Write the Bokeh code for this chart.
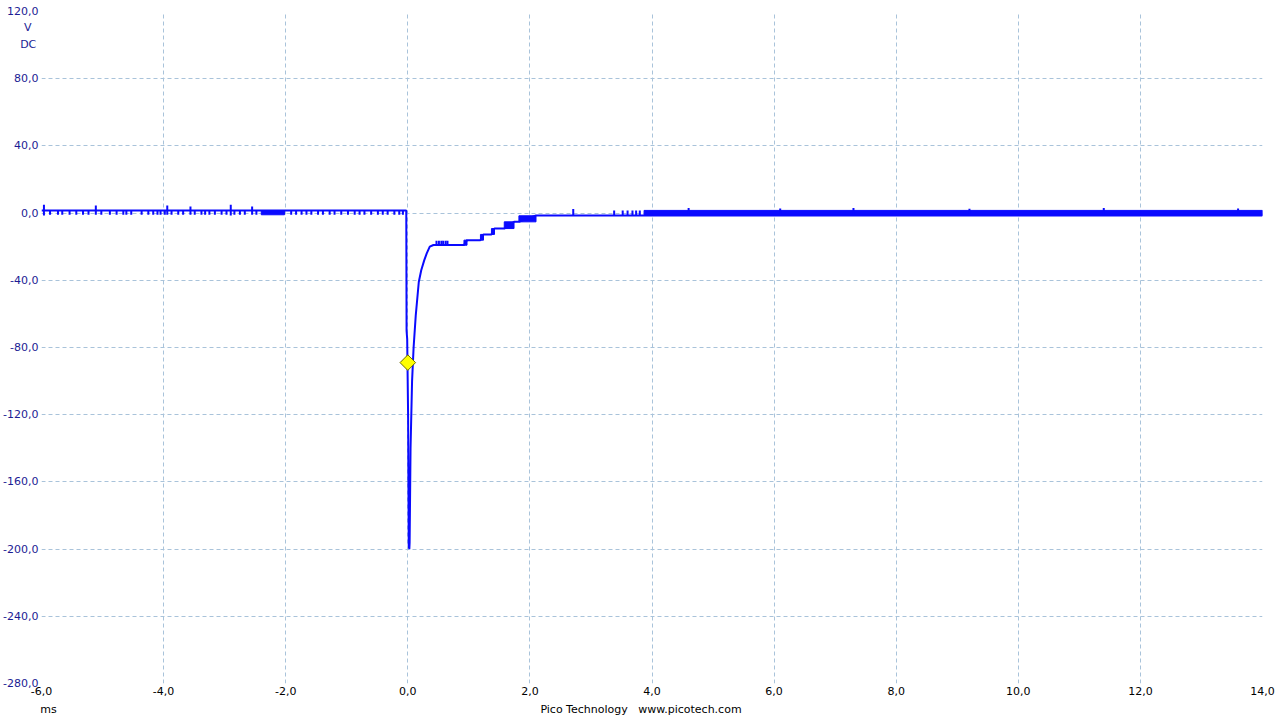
import math
from bokeh.plotting import figure
from bokeh.models import Range1d, FixedTicker, CustomJSTickFormatter, LinearAxis
from bokeh.embed import file_html
from bokeh.resources import INLINE

# ---- axes ----
x_ticks = [-6, -4, -2, 0, 2, 4, 6, 8, 10, 12, 14]
y_ticks = [-280, -240, -200, -160, -120, -80, -40, 0, 40, 80, 120]

# unit captions under the top y label, and footer texts under the x axis
unit_pos = [110.4, 100.3]
unit_text = ["V\u00a0\u00a0", "DC\u2009"]
foot_pos = [-5.885, 3.82]
foot_text = ["ms", "Pico Technology\u00a0\u00a0 www.picotech.com"]

# ---- main trace (ms, V) ----
trace_t = [-6.0, -0.025, -0.02, -0.01, 0.005, 0.015, 0.025, 0.03, 0.045, 0.07, 0.095,
           0.13, 0.18, 0.22, 0.27, 0.31, 0.36, 0.42, 0.92, 0.97, 1.19, 1.24, 1.37,
           1.42, 1.58, 1.74, 1.82, 2.10, 14.0]
trace_v = [1.5, 1.5, -70, -75, -120, -198, -200, -196, -140, -100, -80,
           -61, -41, -34, -28, -24, -20, -19, -19, -16.1, -16.1, -12.7, -12.7,
           -9.2, -9.2, -5.2, -5.2, -1.4, -1.4]

# ---- dense noise regions (start ms, end ms, low V, high V) ----
band_t0 = [-2.40, 0.92, 1.19, 1.37, 1.58, 1.82, 3.87]
band_t1 = [-2.02, 0.97, 1.24, 1.42, 1.74, 2.10, 14.0]
band_lo = [-1.0, -19.1, -16.1, -12.7, -9.2, -5.2, -1.4]
band_hi = [1.5, -16.1, -12.7, -9.2, -5.2, -1.6, 1.6]

# ---- pre-trigger downward noise ticks ----
tick_t = [-5.86, -5.73, -5.66, -5.54, -5.43, -5.32, -5.23, -5.02, -4.88, -4.77,
          -4.66, -4.61, -4.53, -4.36, -4.25, -4.17, -4.10, -4.05, -3.98, -3.87,
          -3.76, -3.68, -3.49, -3.38, -3.32, -3.25, -3.16, -3.05, -2.97, -2.84,
          -2.75, -2.67, -2.48, -1.91, -1.83, -1.74, -1.66, -1.58, -1.47, -1.39,
          -1.28, -1.20, -1.09, -0.98, -0.87, -0.79, -0.71, -0.60, -0.49, -0.41,
          -0.33, -0.22, -0.14, -0.08]
tick_lo = [-1.0] * len(tick_t)
tick_hi = [1.5] * len(tick_t)

# ---- isolated spikes ----
spike_t = [-5.96, -5.11, -3.94, -3.56, -2.90, -2.55,
           0.47, 0.51, 0.55, 0.58, 0.62, 0.65,
           2.71, 3.38, 3.52, 3.60, 3.68, 3.74, 3.80,
           4.6, 6.1, 7.3, 9.2, 11.4, 13.6]
spike_lo = [-1.5, -1.0, -1.0, -1.0, -1.5, -1.0,
            -19, -19, -19, -19, -19, -19,
            -1.4, -1.4, -1.4, -1.4, -1.4, -1.4, -1.4,
            -1.4, -1.4, -1.4, -1.4, -1.4, -1.4]
spike_hi = [5.0, 4.5, 4.5, 4.0, 5.0, 4.0,
            -16.5, -16.5, -16.5, -16.5, -16.5, -16.5,
            2.4, 1.5, 1.5, 1.5, 1.5, 1.5, 1.5,
            3.0, 2.8, 3.0, 2.6, 3.0, 2.8]

# ---- trigger marker ----
trig_t = [0.0]
trig_v = [-89.0]

BLUE = "#0a0aff"
GRID = "#a9c3da"
NAVY = "#1c1c94"
FONT = "DejaVu Sans"

p = figure(width=1280, height=720, output_backend="svg", toolbar_location=None,
           x_range=Range1d(-6, 14), y_range=Range1d(-280, 120),
           min_border_left=40, min_border_right=18, min_border_top=11, min_border_bottom=37)
p.outline_line_color = None
p.background_fill_color = "white"
p.border_fill_color = "white"

code = """
for (let i = 0; i < pos.length; i++) {
    if (Math.abs(tick - pos[i]) < 1e-6) return txt[i];
}
return tick.toFixed(1).replace('.', ',');
"""
p.xaxis.ticker = FixedTicker(ticks=x_ticks)
p.yaxis.ticker = FixedTicker(ticks=y_ticks + unit_pos)
p.xgrid.ticker = FixedTicker(ticks=x_ticks)
p.ygrid.ticker = FixedTicker(ticks=y_ticks)
p.xaxis.formatter = CustomJSTickFormatter(code="return tick.toFixed(1).replace('.', ',');")
p.yaxis.formatter = CustomJSTickFormatter(args=dict(pos=unit_pos, txt=unit_text), code=code)

foot_axis = LinearAxis(ticker=FixedTicker(ticks=foot_pos),
                       formatter=CustomJSTickFormatter(args=dict(pos=foot_pos, txt=foot_text), code=code))
p.add_layout(foot_axis, "below")

for ax in (p.xaxis[0], p.yaxis[0], foot_axis):
    ax.axis_line_color = None
    ax.major_tick_line_color = None
    ax.minor_tick_line_color = None
    ax.major_tick_out = 0
    ax.major_tick_in = 0
    ax.major_label_text_font = FONT
p.xaxis[0].major_label_text_font_size = "11px"
p.xaxis[0].major_label_text_color = "#000000"
p.xaxis[0].major_label_standoff = 3
foot_axis.major_label_text_font_size = "11px"
foot_axis.major_label_text_color = "#000000"
foot_axis.major_label_standoff = 5
p.yaxis.major_label_text_font_size = "11px"
p.yaxis.major_label_text_color = NAVY
p.yaxis.major_label_standoff = 3

for g in (p.xgrid, p.ygrid):
    g.grid_line_color = GRID
    g.grid_line_dash = "4 3"
    g.grid_line_width = 1

p.quad(left=band_t0, right=band_t1, bottom=band_lo, top=band_hi,
       fill_color=BLUE, line_color=BLUE, line_width=1)
p.segment(x0=tick_t, y0=tick_lo, x1=tick_t, y1=tick_hi, line_color=BLUE, line_width=2)
p.segment(x0=spike_t, y0=spike_lo, x1=spike_t, y1=spike_hi, line_color=BLUE, line_width=2)
p.line(trace_t, trace_v, line_color=BLUE, line_width=2)
p.scatter(trig_t, trig_v, marker="square", angle=math.pi / 4, size=11,
          fill_color="#ffff00", line_color="#6b6b00", line_width=1)

open("out.html", "w").write(file_html(p, INLINE))
